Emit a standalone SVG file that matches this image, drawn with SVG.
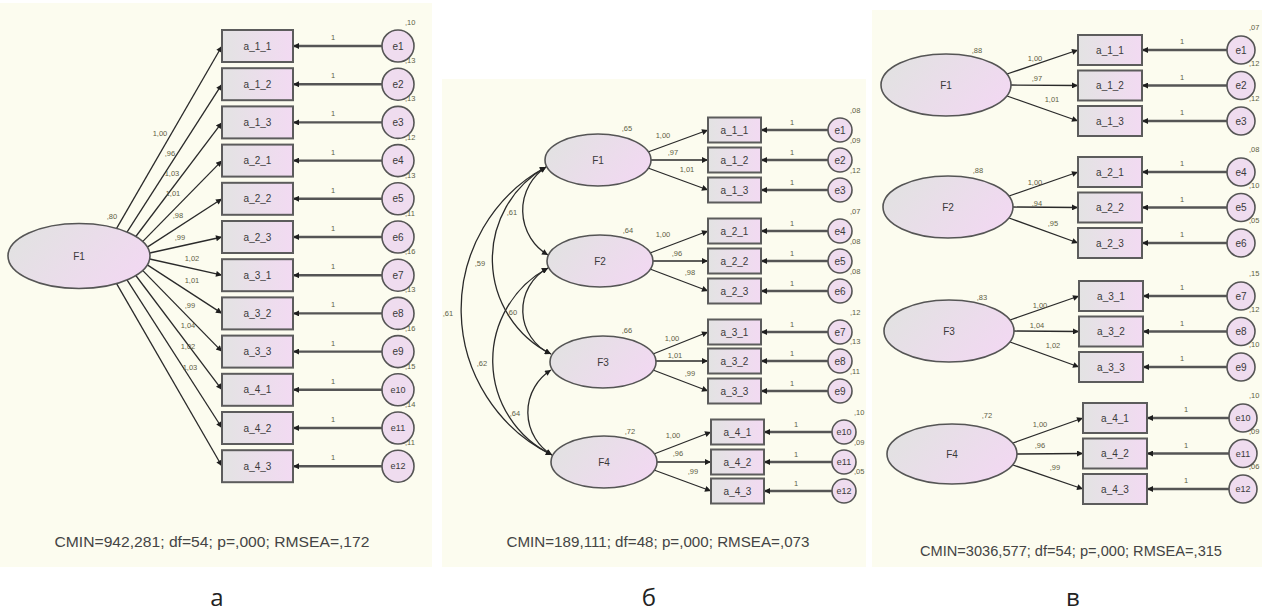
<svg xmlns="http://www.w3.org/2000/svg" width="1262" height="612" viewBox="0 0 1262 612">
  <defs>
    <linearGradient id="gObs" x1="0" y1="0" x2="1" y2="0">
      <stop offset="0" stop-color="#e3e3e3"/>
      <stop offset="1" stop-color="#f2daf2"/>
    </linearGradient>
    <linearGradient id="gLat" x1="0" y1="0.3" x2="1" y2="0.7">
      <stop offset="0" stop-color="#e2e2e2"/>
      <stop offset="1" stop-color="#f2d8f2"/>
    </linearGradient>
    <marker id="ah" viewBox="0 0 10 10" refX="10" refY="5" markerWidth="8" markerHeight="6" markerUnits="userSpaceOnUse" orient="auto">
      <path d="M0,0 L10,5 L0,10 z" fill="#1e1e1e"/>
    </marker>
    <marker id="ah2" viewBox="0 0 10 10" refX="10" refY="5" markerWidth="8" markerHeight="6" markerUnits="userSpaceOnUse" orient="auto-start-reverse">
      <path d="M0,0 L10,5 L0,10 z" fill="#1e1e1e"/>
    </marker>
    <style>
      .bg{fill:#fcfcef}
      .obs{fill:url(#gObs);stroke:#5c5c5c;stroke-width:2}
      .lat{fill:url(#gLat);stroke:#555;stroke-width:1.6}
      .err{fill:#efdcef;stroke:#555;stroke-width:1.6}
      .t{font-family:"Liberation Sans",Arial,sans-serif;fill:#3a3a3a;text-anchor:middle}
      .n{font-size:10px}
      .ns{font-size:9px}
      .v{font-size:7.5px;fill:#5e5e44}
      .vs{font-family:"Liberation Sans",Arial,sans-serif;font-size:7.5px;fill:#5e5e44;text-anchor:start}
      .fit{font-size:14px;fill:#444}
      .cap{font-family:"Open Sans","DejaVu Sans",sans-serif;font-size:24px;fill:#222;text-anchor:middle}
      .load{stroke:#2a2a2a;stroke-width:1.3;fill:none;marker-end:url(#ah)}
      .eline{stroke:#555;stroke-width:2.4;fill:none;marker-end:url(#ah)}
      .cov{stroke:#2a2a2a;stroke-width:1.3;fill:none;marker-start:url(#ah2);marker-end:url(#ah2)}
    </style>
  </defs>

  <rect x="0" y="0" width="1262" height="612" fill="#ffffff"/>

  <!-- ===== Model a: one factor ===== -->
  <g id="panel-a">
    <rect class="bg" x="0" y="3" width="432" height="564"/>

    <g id="a-connectors">
      <line class="load" x1="116.6" y1="228.4" x2="222" y2="46"/>
      <line class="load" x1="127" y1="232.1" x2="222" y2="84.2"/>
      <line class="load" x1="135.8" y1="236.5" x2="222" y2="122.4"/>
      <line class="load" x1="142.6" y1="241.6" x2="222" y2="160.6"/>
      <line class="load" x1="147.3" y1="247.1" x2="222" y2="198.8"/>
      <line class="load" x1="149.7" y1="253" x2="222" y2="237"/>
      <line class="load" x1="149.7" y1="259" x2="222" y2="275.2"/>
      <line class="load" x1="147.3" y1="264.9" x2="222" y2="313.4"/>
      <line class="load" x1="142.6" y1="270.4" x2="222" y2="351.6"/>
      <line class="load" x1="135.8" y1="275.5" x2="222" y2="389.8"/>
      <line class="load" x1="127" y1="279.9" x2="222" y2="428"/>
      <line class="load" x1="116.6" y1="283.6" x2="222" y2="466.2"/>

      <line class="eline" x1="382" y1="46" x2="293" y2="46"/>
      <line class="eline" x1="382" y1="84.2" x2="293" y2="84.2"/>
      <line class="eline" x1="382" y1="122.4" x2="293" y2="122.4"/>
      <line class="eline" x1="382" y1="160.6" x2="293" y2="160.6"/>
      <line class="eline" x1="382" y1="198.8" x2="293" y2="198.8"/>
      <line class="eline" x1="382" y1="237" x2="293" y2="237"/>
      <line class="eline" x1="382" y1="275.2" x2="293" y2="275.2"/>
      <line class="eline" x1="382" y1="313.4" x2="293" y2="313.4"/>
      <line class="eline" x1="382" y1="351.6" x2="293" y2="351.6"/>
      <line class="eline" x1="382" y1="389.8" x2="293" y2="389.8"/>
      <line class="eline" x1="382" y1="428" x2="293" y2="428"/>
      <line class="eline" x1="382" y1="466.2" x2="293" y2="466.2"/>

      <g class="t v">
        <text x="160" y="135.5">1,00</text>
        <text x="170" y="155.5">,96</text>
        <text x="172" y="175.5">1,03</text>
        <text x="173" y="195.5">1,01</text>
        <text x="178" y="217.5">,98</text>
        <text x="180" y="239.5">,99</text>
        <text x="192" y="260.5">1,02</text>
        <text x="192" y="282.5">1,01</text>
        <text x="190" y="307.5">,99</text>
        <text x="188" y="327.5">1,04</text>
        <text x="188" y="348.5">1,02</text>
        <text x="190" y="369.5">1,03</text>
      </g>
      <g class="t v">
        <text x="333" y="40">1</text>
        <text x="333" y="78.2">1</text>
        <text x="333" y="116.4">1</text>
        <text x="333" y="154.6">1</text>
        <text x="333" y="192.8">1</text>
        <text x="333" y="231">1</text>
        <text x="333" y="269.2">1</text>
        <text x="333" y="307.4">1</text>
        <text x="333" y="345.6">1</text>
        <text x="333" y="383.8">1</text>
        <text x="333" y="422">1</text>
        <text x="333" y="460.2">1</text>
      </g>
    </g>

    <g id="a-F1">
      <ellipse class="lat" cx="79" cy="256" rx="71" ry="32.5"/>
      <text class="t n" x="79" y="260">F1</text>
      <text class="t v" x="112" y="219">,80</text>
    </g>

    <g id="a-items">
      <g id="a-a_1_1"><rect class="obs" x="222" y="30" width="71" height="32"/><text class="t n" x="257.5" y="49.5">a_1_1</text></g>
      <g id="a-a_1_2"><rect class="obs" x="222" y="68.2" width="71" height="32"/><text class="t n" x="257.5" y="87.7">a_1_2</text></g>
      <g id="a-a_1_3"><rect class="obs" x="222" y="106.4" width="71" height="32"/><text class="t n" x="257.5" y="125.9">a_1_3</text></g>
      <g id="a-a_2_1"><rect class="obs" x="222" y="144.6" width="71" height="32"/><text class="t n" x="257.5" y="164.1">a_2_1</text></g>
      <g id="a-a_2_2"><rect class="obs" x="222" y="182.8" width="71" height="32"/><text class="t n" x="257.5" y="202.3">a_2_2</text></g>
      <g id="a-a_2_3"><rect class="obs" x="222" y="221" width="71" height="32"/><text class="t n" x="257.5" y="240.5">a_2_3</text></g>
      <g id="a-a_3_1"><rect class="obs" x="222" y="259.2" width="71" height="32"/><text class="t n" x="257.5" y="278.7">a_3_1</text></g>
      <g id="a-a_3_2"><rect class="obs" x="222" y="297.4" width="71" height="32"/><text class="t n" x="257.5" y="316.9">a_3_2</text></g>
      <g id="a-a_3_3"><rect class="obs" x="222" y="335.6" width="71" height="32"/><text class="t n" x="257.5" y="355.1">a_3_3</text></g>
      <g id="a-a_4_1"><rect class="obs" x="222" y="373.8" width="71" height="32"/><text class="t n" x="257.5" y="393.3">a_4_1</text></g>
      <g id="a-a_4_2"><rect class="obs" x="222" y="412" width="71" height="32"/><text class="t n" x="257.5" y="431.5">a_4_2</text></g>
      <g id="a-a_4_3"><rect class="obs" x="222" y="450.2" width="71" height="32"/><text class="t n" x="257.5" y="469.7">a_4_3</text></g>
    </g>

    <g id="a-errors">
      <g id="a-e1"><circle class="err" cx="398" cy="46" r="16"/><text class="t n" x="398" y="49.5">e1</text><text class="vs" x="405" y="25">,10</text></g>
      <g id="a-e2"><circle class="err" cx="398" cy="84.2" r="16"/><text class="t n" x="398" y="87.7">e2</text><text class="vs" x="405" y="63.2">,13</text></g>
      <g id="a-e3"><circle class="err" cx="398" cy="122.4" r="16"/><text class="t n" x="398" y="125.9">e3</text><text class="vs" x="405" y="101.4">,13</text></g>
      <g id="a-e4"><circle class="err" cx="398" cy="160.6" r="16"/><text class="t n" x="398" y="164.1">e4</text><text class="vs" x="405" y="139.6">,12</text></g>
      <g id="a-e5"><circle class="err" cx="398" cy="198.8" r="16"/><text class="t n" x="398" y="202.3">e5</text><text class="vs" x="405" y="177.8">,13</text></g>
      <g id="a-e6"><circle class="err" cx="398" cy="237" r="16"/><text class="t n" x="398" y="240.5">e6</text><text class="vs" x="405" y="216">,11</text></g>
      <g id="a-e7"><circle class="err" cx="398" cy="275.2" r="16"/><text class="t n" x="398" y="278.7">e7</text><text class="vs" x="405" y="254.2">,16</text></g>
      <g id="a-e8"><circle class="err" cx="398" cy="313.4" r="16"/><text class="t n" x="398" y="316.9">e8</text><text class="vs" x="405" y="292.4">,13</text></g>
      <g id="a-e9"><circle class="err" cx="398" cy="351.6" r="16"/><text class="t n" x="398" y="355.1">e9</text><text class="vs" x="405" y="330.6">,16</text></g>
      <g id="a-e10"><circle class="err" cx="398" cy="389.8" r="16"/><text class="t ns" x="398" y="393">e10</text><text class="vs" x="405" y="368.8">,15</text></g>
      <g id="a-e11"><circle class="err" cx="398" cy="428" r="16"/><text class="t ns" x="398" y="431.2">e11</text><text class="vs" x="405" y="407">,14</text></g>
      <g id="a-e12"><circle class="err" cx="398" cy="466.2" r="16"/><text class="t ns" x="398" y="469.4">e12</text><text class="vs" x="405" y="445.2">,11</text></g>
    </g>

    <text class="t fit" x="212" y="547" textLength="315" lengthAdjust="spacingAndGlyphs">CMIN=942,281; df=54; p=,000; RMSEA=,172</text>
  </g>

  <!-- ===== Model б: four correlated factors ===== -->
  <g id="panel-b">
    <rect class="bg" x="442" y="79" width="424" height="488"/>

    <g id="b-connectors">
      <path class="cov" d="M546,167 A52,52 0 0 0 548,255"/>
      <path class="cov" d="M546,167 A106,106 0 0 0 551,354"/>
      <path class="cov" d="M546,167 A162,162 0 0 0 552,455"/>
      <path class="cov" d="M548,268 A48,48 0 0 0 551,354"/>
      <path class="cov" d="M548,268 A105,105 0 0 0 552,455"/>
      <path class="cov" d="M551,370 A50,50 0 0 0 552,455"/>
      <g class="t v">
        <text x="512" y="214.5">,61</text>
        <text x="480" y="265.5">,59</text>
        <text x="448" y="315.5">,61</text>
        <text x="512" y="314.5">,60</text>
        <text x="482" y="365.5">,62</text>
        <text x="515" y="415.5">,64</text>
      </g>

      <line class="load" x1="648" y1="152" x2="708" y2="130"/>
      <line class="load" x1="651" y1="160" x2="708" y2="160"/>
      <line class="load" x1="648" y1="168" x2="708" y2="190"/>
      <line class="load" x1="650" y1="253" x2="708" y2="231"/>
      <line class="load" x1="653" y1="261" x2="708" y2="261"/>
      <line class="load" x1="650" y1="269" x2="708" y2="291"/>
      <line class="load" x1="653" y1="354" x2="708" y2="332"/>
      <line class="load" x1="656" y1="361" x2="708" y2="361"/>
      <line class="load" x1="653" y1="370" x2="708" y2="391"/>
      <line class="load" x1="654" y1="454" x2="711" y2="432"/>
      <line class="load" x1="657" y1="462" x2="711" y2="462"/>
      <line class="load" x1="654" y1="470" x2="711" y2="491"/>
      <g class="t v">
        <text x="663" y="137.5">1,00</text>
        <text x="673" y="154.5">,97</text>
        <text x="687" y="171.5">1,01</text>
        <text x="663" y="236.5">1,00</text>
        <text x="677" y="255.5">,96</text>
        <text x="690" y="274.5">,98</text>
        <text x="672" y="340.5">1,00</text>
        <text x="675" y="357.5">1,01</text>
        <text x="690" y="375.5">,99</text>
        <text x="673" y="437.5">1,00</text>
        <text x="678" y="455.5">,96</text>
        <text x="693" y="473.5">,99</text>
      </g>

      <line class="eline" x1="828" y1="130" x2="761" y2="130"/>
      <line class="eline" x1="828" y1="160" x2="761" y2="160"/>
      <line class="eline" x1="828" y1="190" x2="761" y2="190"/>
      <line class="eline" x1="828" y1="231" x2="761" y2="231"/>
      <line class="eline" x1="828" y1="261" x2="761" y2="261"/>
      <line class="eline" x1="828" y1="291" x2="761" y2="291"/>
      <line class="eline" x1="828" y1="332" x2="761" y2="332"/>
      <line class="eline" x1="828" y1="361" x2="761" y2="361"/>
      <line class="eline" x1="828" y1="391" x2="761" y2="391"/>
      <line class="eline" x1="832" y1="432" x2="764" y2="432"/>
      <line class="eline" x1="832" y1="462" x2="764" y2="462"/>
      <line class="eline" x1="832" y1="491" x2="764" y2="491"/>
      <g class="t v">
        <text x="792" y="125">1</text>
        <text x="792" y="155">1</text>
        <text x="792" y="185">1</text>
        <text x="792" y="226">1</text>
        <text x="792" y="256">1</text>
        <text x="792" y="286">1</text>
        <text x="792" y="327">1</text>
        <text x="792" y="356">1</text>
        <text x="792" y="386">1</text>
        <text x="796" y="427">1</text>
        <text x="796" y="457">1</text>
        <text x="796" y="486">1</text>
      </g>
    </g>

    <g id="b-F1"><ellipse class="lat" cx="598" cy="160" rx="53" ry="26"/><text class="t n" x="598" y="163.5">F1</text><text class="t v" x="627" y="130.5">,65</text></g>
    <g id="b-F2"><ellipse class="lat" cx="600" cy="261" rx="53" ry="26"/><text class="t n" x="600" y="264.5">F2</text><text class="t v" x="628" y="232.5">,64</text></g>
    <g id="b-F3"><ellipse class="lat" cx="603" cy="362" rx="53" ry="26"/><text class="t n" x="603" y="365.5">F3</text><text class="t v" x="627" y="332.5">,66</text></g>
    <g id="b-F4"><ellipse class="lat" cx="604" cy="462" rx="53" ry="26"/><text class="t n" x="604" y="465.5">F4</text><text class="t v" x="630" y="433.5">,72</text></g>

    <g id="b-items">
      <g id="b-a_1_1"><rect class="obs" x="708" y="117.5" width="53" height="25"/><text class="t n" x="734.5" y="133.5">a_1_1</text></g>
      <g id="b-a_1_2"><rect class="obs" x="708" y="147.5" width="53" height="25"/><text class="t n" x="734.5" y="163.5">a_1_2</text></g>
      <g id="b-a_1_3"><rect class="obs" x="708" y="177.5" width="53" height="25"/><text class="t n" x="734.5" y="193.5">a_1_3</text></g>
      <g id="b-a_2_1"><rect class="obs" x="708" y="218.5" width="53" height="25"/><text class="t n" x="734.5" y="234.5">a_2_1</text></g>
      <g id="b-a_2_2"><rect class="obs" x="708" y="248.5" width="53" height="25"/><text class="t n" x="734.5" y="264.5">a_2_2</text></g>
      <g id="b-a_2_3"><rect class="obs" x="708" y="278.5" width="53" height="25"/><text class="t n" x="734.5" y="294.5">a_2_3</text></g>
      <g id="b-a_3_1"><rect class="obs" x="708" y="319.5" width="53" height="25"/><text class="t n" x="734.5" y="335.5">a_3_1</text></g>
      <g id="b-a_3_2"><rect class="obs" x="708" y="348.5" width="53" height="25"/><text class="t n" x="734.5" y="364.5">a_3_2</text></g>
      <g id="b-a_3_3"><rect class="obs" x="708" y="378.5" width="53" height="25"/><text class="t n" x="734.5" y="394.5">a_3_3</text></g>
      <g id="b-a_4_1"><rect class="obs" x="711" y="419.5" width="53" height="25"/><text class="t n" x="737.5" y="435.5">a_4_1</text></g>
      <g id="b-a_4_2"><rect class="obs" x="711" y="449.5" width="53" height="25"/><text class="t n" x="737.5" y="465.5">a_4_2</text></g>
      <g id="b-a_4_3"><rect class="obs" x="711" y="478.5" width="53" height="25"/><text class="t n" x="737.5" y="494.5">a_4_3</text></g>
    </g>

    <g id="b-errors">
      <g id="b-e1"><circle class="err" cx="840" cy="130" r="12"/><text class="t n" x="840" y="133.5">e1</text><text class="vs" x="850" y="113">,08</text></g>
      <g id="b-e2"><circle class="err" cx="840" cy="160" r="12"/><text class="t n" x="840" y="163.5">e2</text><text class="vs" x="850" y="143">,09</text></g>
      <g id="b-e3"><circle class="err" cx="840" cy="190" r="12"/><text class="t n" x="840" y="193.5">e3</text><text class="vs" x="850" y="173">,12</text></g>
      <g id="b-e4"><circle class="err" cx="840" cy="231" r="12"/><text class="t n" x="840" y="234.5">e4</text><text class="vs" x="850" y="214">,07</text></g>
      <g id="b-e5"><circle class="err" cx="840" cy="261" r="12"/><text class="t n" x="840" y="264.5">e5</text><text class="vs" x="850" y="244">,08</text></g>
      <g id="b-e6"><circle class="err" cx="840" cy="291" r="12"/><text class="t n" x="840" y="294.5">e6</text><text class="vs" x="850" y="274">,08</text></g>
      <g id="b-e7"><circle class="err" cx="840" cy="332" r="12"/><text class="t n" x="840" y="335.5">e7</text><text class="vs" x="850" y="315">,12</text></g>
      <g id="b-e8"><circle class="err" cx="840" cy="361" r="12"/><text class="t n" x="840" y="364.5">e8</text><text class="vs" x="850" y="344">,13</text></g>
      <g id="b-e9"><circle class="err" cx="840" cy="391" r="12"/><text class="t n" x="840" y="394.5">e9</text><text class="vs" x="850" y="374">,11</text></g>
      <g id="b-e10"><circle class="err" cx="844" cy="432" r="12"/><text class="t ns" x="844" y="435">e10</text><text class="vs" x="854" y="415">,10</text></g>
      <g id="b-e11"><circle class="err" cx="844" cy="462" r="12"/><text class="t ns" x="844" y="465">e11</text><text class="vs" x="854" y="445">,09</text></g>
      <g id="b-e12"><circle class="err" cx="844" cy="491" r="12"/><text class="t ns" x="844" y="494">e12</text><text class="vs" x="854" y="474">,05</text></g>
    </g>

    <text class="t fit" x="658" y="547" textLength="303" lengthAdjust="spacingAndGlyphs">CMIN=189,111; df=48; p=,000; RMSEA=,073</text>
  </g>

  <!-- ===== Model в: four uncorrelated factors ===== -->
  <g id="panel-c">
    <rect class="bg" x="872" y="10" width="390" height="557"/>

    <g id="c-connectors">
      <line class="load" x1="1007" y1="74" x2="1078" y2="50"/>
      <line class="load" x1="1011" y1="85" x2="1078" y2="85.5"/>
      <line class="load" x1="1007" y1="96" x2="1078" y2="121"/>
      <line class="load" x1="1009" y1="196" x2="1078" y2="172"/>
      <line class="load" x1="1013" y1="207" x2="1078" y2="207.5"/>
      <line class="load" x1="1009" y1="218" x2="1078" y2="243"/>
      <line class="load" x1="1010" y1="320" x2="1079" y2="296"/>
      <line class="load" x1="1014" y1="331" x2="1079" y2="331.5"/>
      <line class="load" x1="1010" y1="342" x2="1079" y2="367"/>
      <line class="load" x1="1013" y1="443" x2="1083" y2="418"/>
      <line class="load" x1="1017" y1="454" x2="1083" y2="453.5"/>
      <line class="load" x1="1013" y1="465" x2="1083" y2="489"/>
      <g class="t v">
        <text x="1035" y="60.5">1,00</text>
        <text x="1037" y="80.5">,97</text>
        <text x="1052" y="101.5">1,01</text>
        <text x="1035" y="184.5">1,00</text>
        <text x="1037" y="205.5">,94</text>
        <text x="1053" y="225.5">,95</text>
        <text x="1040" y="307.5">1,00</text>
        <text x="1037" y="327.5">1,04</text>
        <text x="1053" y="347.5">1,02</text>
        <text x="1040" y="426.5">1,00</text>
        <text x="1040" y="447.5">,96</text>
        <text x="1055" y="469.5">,99</text>
      </g>

      <line class="eline" x1="1227" y1="50" x2="1142" y2="50"/>
      <line class="eline" x1="1227" y1="85.5" x2="1142" y2="85.5"/>
      <line class="eline" x1="1227" y1="121" x2="1142" y2="121"/>
      <line class="eline" x1="1227" y1="172" x2="1142" y2="172"/>
      <line class="eline" x1="1227" y1="207.5" x2="1142" y2="207.5"/>
      <line class="eline" x1="1227" y1="243" x2="1142" y2="243"/>
      <line class="eline" x1="1227" y1="296" x2="1143" y2="296"/>
      <line class="eline" x1="1227" y1="331.5" x2="1143" y2="331.5"/>
      <line class="eline" x1="1227" y1="367" x2="1143" y2="367"/>
      <line class="eline" x1="1229" y1="418" x2="1147" y2="418"/>
      <line class="eline" x1="1229" y1="453.5" x2="1147" y2="453.5"/>
      <line class="eline" x1="1229" y1="489" x2="1147" y2="489"/>
      <g class="t v">
        <text x="1182" y="44">1</text>
        <text x="1182" y="79.5">1</text>
        <text x="1182" y="115">1</text>
        <text x="1182" y="166">1</text>
        <text x="1182" y="201.5">1</text>
        <text x="1182" y="237">1</text>
        <text x="1182" y="290">1</text>
        <text x="1182" y="325.5">1</text>
        <text x="1182" y="361">1</text>
        <text x="1186" y="412">1</text>
        <text x="1186" y="447.5">1</text>
        <text x="1186" y="483">1</text>
      </g>
    </g>

    <g id="c-F1"><ellipse class="lat" cx="946" cy="85" rx="65" ry="31"/><text class="t n" x="946" y="88.5">F1</text><text class="t v" x="977" y="52.5">,88</text></g>
    <g id="c-F2"><ellipse class="lat" cx="948" cy="207" rx="65" ry="31"/><text class="t n" x="948" y="210.5">F2</text><text class="t v" x="978" y="172.5">,88</text></g>
    <g id="c-F3"><ellipse class="lat" cx="949" cy="331" rx="65" ry="31"/><text class="t n" x="949" y="334.5">F3</text><text class="t v" x="982" y="299.5">,83</text></g>
    <g id="c-F4"><ellipse class="lat" cx="952" cy="454" rx="65" ry="30"/><text class="t n" x="952" y="457.5">F4</text><text class="t v" x="987" y="417.5">,72</text></g>

    <g id="c-items">
      <g id="c-a_1_1"><rect class="obs" x="1078" y="35" width="64" height="30"/><text class="t n" x="1110" y="53.5">a_1_1</text></g>
      <g id="c-a_1_2"><rect class="obs" x="1078" y="70.5" width="64" height="30"/><text class="t n" x="1110" y="89">a_1_2</text></g>
      <g id="c-a_1_3"><rect class="obs" x="1078" y="106" width="64" height="30"/><text class="t n" x="1110" y="124.5">a_1_3</text></g>
      <g id="c-a_2_1"><rect class="obs" x="1078" y="157" width="64" height="30"/><text class="t n" x="1110" y="175.5">a_2_1</text></g>
      <g id="c-a_2_2"><rect class="obs" x="1078" y="192.5" width="64" height="30"/><text class="t n" x="1110" y="211">a_2_2</text></g>
      <g id="c-a_2_3"><rect class="obs" x="1078" y="228" width="64" height="30"/><text class="t n" x="1110" y="246.5">a_2_3</text></g>
      <g id="c-a_3_1"><rect class="obs" x="1079" y="281" width="64" height="30"/><text class="t n" x="1111" y="299.5">a_3_1</text></g>
      <g id="c-a_3_2"><rect class="obs" x="1079" y="316.5" width="64" height="30"/><text class="t n" x="1111" y="335">a_3_2</text></g>
      <g id="c-a_3_3"><rect class="obs" x="1079" y="352" width="64" height="30"/><text class="t n" x="1111" y="370.5">a_3_3</text></g>
      <g id="c-a_4_1"><rect class="obs" x="1083" y="403" width="64" height="30"/><text class="t n" x="1115" y="421.5">a_4_1</text></g>
      <g id="c-a_4_2"><rect class="obs" x="1083" y="438.5" width="64" height="30"/><text class="t n" x="1115" y="457">a_4_2</text></g>
      <g id="c-a_4_3"><rect class="obs" x="1083" y="474" width="64" height="30"/><text class="t n" x="1115" y="492.5">a_4_3</text></g>
    </g>

    <g id="c-errors">
      <g id="c-e1"><circle class="err" cx="1241" cy="50" r="14"/><text class="t n" x="1241" y="53.5">e1</text><text class="vs" x="1249" y="30">,07</text></g>
      <g id="c-e2"><circle class="err" cx="1241" cy="85.5" r="14"/><text class="t n" x="1241" y="89">e2</text><text class="vs" x="1249" y="65.5">,12</text></g>
      <g id="c-e3"><circle class="err" cx="1241" cy="121" r="14"/><text class="t n" x="1241" y="124.5">e3</text><text class="vs" x="1249" y="101">,12</text></g>
      <g id="c-e4"><circle class="err" cx="1241" cy="172" r="14"/><text class="t n" x="1241" y="175.5">e4</text><text class="vs" x="1249" y="152">,08</text></g>
      <g id="c-e5"><circle class="err" cx="1241" cy="207.5" r="14"/><text class="t n" x="1241" y="211">e5</text><text class="vs" x="1249" y="187.5">,10</text></g>
      <g id="c-e6"><circle class="err" cx="1241" cy="243" r="14"/><text class="t n" x="1241" y="246.5">e6</text><text class="vs" x="1249" y="223">,05</text></g>
      <g id="c-e7"><circle class="err" cx="1241" cy="296" r="14"/><text class="t n" x="1241" y="299.5">e7</text><text class="vs" x="1249" y="276">,15</text></g>
      <g id="c-e8"><circle class="err" cx="1241" cy="331.5" r="14"/><text class="t n" x="1241" y="335">e8</text><text class="vs" x="1249" y="311.5">,12</text></g>
      <g id="c-e9"><circle class="err" cx="1241" cy="367" r="14"/><text class="t n" x="1241" y="370.5">e9</text><text class="vs" x="1249" y="347">,10</text></g>
      <g id="c-e10"><circle class="err" cx="1243" cy="418" r="14"/><text class="t ns" x="1243" y="421">e10</text><text class="vs" x="1249" y="398">,10</text></g>
      <g id="c-e11"><circle class="err" cx="1243" cy="453.5" r="14"/><text class="t ns" x="1243" y="456.5">e11</text><text class="vs" x="1249" y="433.5">,09</text></g>
      <g id="c-e12"><circle class="err" cx="1243" cy="489" r="14"/><text class="t ns" x="1243" y="492">e12</text><text class="vs" x="1249" y="469">,06</text></g>
    </g>

    <text class="t fit" x="1071" y="556" textLength="302" lengthAdjust="spacingAndGlyphs">CMIN=3036,577; df=54; p=,000; RMSEA=,315</text>
  </g>

  <!-- panel captions -->
  <text class="cap" x="217" y="606">а</text>
  <text class="cap" x="649" y="606">б</text>
  <text class="cap" x="1073" y="606">в</text>
</svg>
